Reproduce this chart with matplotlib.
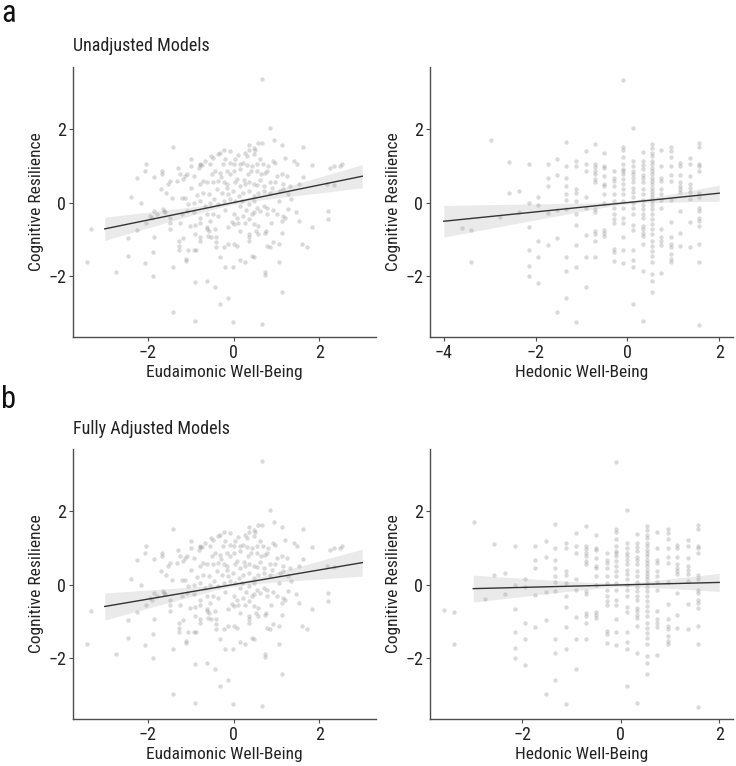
import numpy as np
import matplotlib
matplotlib.use("Agg")
import matplotlib.pyplot as plt

plt.rcParams['font.family'] = ['Roboto Condensed', 'DejaVu Sans Condensed', 'Liberation Sans Narrow',
                               'Liberation Sans', 'DejaVu Sans']

# eudaimonic well-being vs cognitive resilience
eud_pts = [
    (0.66, 3.37), (0.84, 2.05), (-1.40, 1.53), (0.95, 1.71), (1.63, 1.53),
    (0.35, 1.57), (0.47, 1.50), (0.58, 1.64), (0.66, 1.64), (0.35, 1.44), (0.50, 1.44),
    (1.13, 1.57), (-0.23, 1.45), (-0.08, 1.41),
    (-2.05, 1.05), (-2.07, 0.86), (-1.00, 1.20), (-0.79, 1.05), (-0.74, 1.02), (-0.81, 0.95),
    (-0.53, 1.27), (-0.47, 1.23), (-0.31, 1.36), (-0.35, 1.32),
    (-1.67, 0.86), (-1.67, 0.77), (-2.25, 0.68), (-1.86, 0.71),
    (2.33, 1.00), (2.52, 1.05), (2.25, 0.95), (2.48, 1.00), (1.82, 1.02), (1.40, 1.15), (1.47, 1.05),
    (-1.24, 0.77), (-1.12, 0.73), (-1.49, 0.59), (-1.53, 0.52), (-1.70, 0.36), (-1.57, 0.27),
    (-2.16, 0.00), (-2.04, -0.55), (-2.25, -0.75), (-3.33, -0.73), (-2.46, -0.97), (-1.86, -0.95),
    (-1.87, -1.36), (-2.46, -1.47), (-2.06, -1.66), (-1.87, -2.00), (-2.74, -1.89), (-3.42, -1.62),
    (-1.40, -1.77), (-1.40, -3.00), (-0.90, -3.25), (-0.90, -2.18), (-0.62, -2.14), (-0.43, -2.32),
    (-0.31, -2.77), (-0.12, -2.62), (-0.02, -3.27), (0.66, -3.32), (1.14, -2.45), (0.74, -1.90),
    (0.74, -1.97), (1.05, -1.64), (0.43, -1.45), (0.47, -1.50), (0.27, -1.64), (0.16, -1.56),
    (-0.02, -1.77), (-0.21, -1.77), (-0.31, -1.50), (-1.10, -1.60), (-1.10, -1.54), (-1.05, -1.30),
    (-0.93, -1.30), (-0.87, -1.30), (-1.28, -1.30), (-1.28, -1.18), (-1.28, -1.05), (-1.18, -0.97),
    (-0.90, -0.86), (-0.78, -0.95), (-0.78, -1.05), (-0.62, -0.73), (-0.58, -0.77), (-0.43, -0.73),
    (-0.60, -0.91), (-0.53, -0.95), (-0.40, -0.95), (-0.40, -1.09), (-0.40, -1.23), (-0.22, -1.23),
    (-0.14, -1.14), (0.00, -1.14), (0.08, -1.18), (-0.04, -0.53), (0.00, -0.59), (-0.12, -0.68),
    (0.16, -0.77), (0.27, -0.55), (0.35, -0.95), (0.35, -0.86), (0.35, -1.05), (0.53, -0.77),
    (0.56, -0.86), (0.47, -0.59), (0.58, -0.64), (0.74, -0.82), (0.75, -0.77), (0.78, -1.18),
    (0.84, -1.23), (0.93, -1.09), (1.05, -1.14), (1.14, -0.82), (1.20, -0.41), (1.14, -0.50),
    (1.53, -0.50), (1.82, -0.66), (1.60, -1.14), (1.71, -1.21), (2.21, -0.23), (2.21, -0.45),
    (1.63, 0.70), (1.52, 0.50), (2.17, 0.50), (2.33, 0.47),
    (0.27, 1.36), (0.31, 1.27), (0.04, 1.18), (0.47, 1.32),
    (-0.78, 1.03), (-0.54, 1.06), (-0.25, 1.05), (-0.08, 1.09), (0.00, 1.06), (0.16, 1.06),
    (0.23, 1.09), (0.31, 1.03), (0.43, 1.00), (0.54, 1.05), (0.93, 1.14), (0.97, 1.07), (1.21, 1.23),
    (-1.08, 0.79), (-0.93, 0.73), (-0.70, 0.59), (-0.50, 0.77), (-0.43, 0.85), (-0.31, 0.82),
    (-0.16, 0.85), (-0.08, 0.77), (0.00, 0.85), (0.16, 0.91), (0.33, 0.77), (0.40, 0.85),
    (0.54, 0.86), (0.64, 0.77), (0.74, 0.82), (0.78, 0.85), (1.01, 0.73), (1.13, 0.77), (1.24, 0.73),
    (-1.32, 0.59), (-1.18, 0.64), (-0.78, 0.52), (-0.62, 0.55), (-0.47, 0.55), (-0.35, 0.59),
    (-0.23, 0.55), (-0.16, 0.52), (0.04, 0.55), (0.16, 0.45), (0.27, 0.50), (0.37, 0.55),
    (0.47, 0.50), (0.54, 0.48), (0.70, 0.45), (0.84, 0.55), (0.97, 0.55), (1.16, 0.50), (1.32, 0.45),
    (-1.43, 0.12), (-1.20, 0.12), (-1.12, 0.12), (-0.70, 0.27), (-0.58, 0.23), (-0.39, 0.36),
    (-0.27, 0.27), (-0.12, 0.23), (-0.02, 0.32), (0.12, 0.18), (0.23, 0.27), (0.35, 0.32),
    (0.47, 0.18), (0.58, 0.27), (0.70, 0.32), (0.85, 0.27), (1.09, 0.32), (1.16, 0.36), (1.26, 0.23),
    (-0.93, 0.00), (-0.78, 0.05), (-0.66, -0.09), (-0.54, 0.00), (-0.35, -0.05), (-0.23, 0.05),
    (-0.08, 0.09), (0.04, 0.05), (0.16, -0.09), (0.35, -0.05), (0.47, 0.05), (0.54, -0.14),
    (0.70, -0.09), (0.78, -0.14), (0.93, -0.21),
    (-1.64, -0.18), (-1.59, -0.27), (-1.47, -0.41), (-1.20, -0.32), (-1.09, -0.23), (-0.93, -0.25),
    (-0.78, -0.41), (-0.62, -0.32), (-0.47, -0.32), (-0.35, -0.36), (0.00, -0.32), (0.08, -0.41),
    (0.23, -0.36), (0.35, -0.45), (0.47, -0.27), (0.62, -0.23), (0.78, -0.32), (1.02, -0.30),
    (1.16, -0.36), (1.26, -0.18),
    (-1.86, -0.23), (-1.78, -0.32), (-1.94, -0.36), (-1.63, -0.23), (-1.90, -0.41),
    (-1.49, -0.57), (-1.47, -0.73), (-1.01, -0.64), (-0.90, -0.61), (-0.79, -0.57), (-0.62, -0.68),
    # extra points in the dense middle of the cloud
    (-0.66, 1.14), (-0.20, 1.20), (0.10, 1.30), (0.62, 1.20), (0.80, 1.00), (-1.30, 0.95),
    (-0.98, 0.40), (-0.85, 0.20), (-0.45, 0.10), (-0.15, 0.40), (0.08, 0.65), (0.25, 0.62),
    (0.62, 0.62), (0.90, 0.40), (1.05, 0.05), (0.30, -0.20), (-0.20, -0.20), (-0.55, -0.50),
    (0.10, -0.55), (0.42, -0.30), (0.88, -0.55), (-1.05, -0.05), (-1.25, -0.55), (0.20, 0.05),
    (-0.30, 0.70), (0.68, 1.05), (1.35, 0.10), (1.45, -0.25), (-2.40, 0.15), (-1.00, 1.00),
]
eud_x = [p[0] for p in eud_pts]
eud_y = [p[1] for p in eud_pts]

# hedonic well-being takes discrete levels; resilience values per level
hed_levels = [-3.6, -3.4, -2.98, -2.77, -2.57, -2.36, -2.15, -1.95, -1.74, -1.53, -1.33, -1.12,
              -0.91, -0.71, -0.50, -0.29, -0.09, 0.12, 0.33, 0.53, 0.74, 0.95, 1.15, 1.36, 1.57]
hed_res = [
    [-0.71],
    [-0.74, -1.62],
    [1.72],
    [-0.39],
    [1.10, 0.25],
    [0.32, -0.25],
    [1.05, 0.00, -0.66, -1.30, -1.75, -2.00],
    [0.15, -0.07, -1.05, -1.48, -2.19],
    [1.06, 0.68, 0.45, -0.28, -1.15],
    [1.20, 0.75, -0.21, -0.98, -3.00],
    [1.65, 1.01, 0.68, 0.44, 0.23, 0.07, -0.17, -1.50, -1.88, -2.62],
    [1.15, 1.01, 0.36, 0.25, 0.05, -0.30, -0.61, -1.15, -1.77, -3.27],
    [1.41, 1.05, 0.85, 0.15, -0.14, -0.89, -1.50, -2.32],
    [1.59, 1.05, 0.97, 0.85, 0.77, 0.64, 0.55, -0.18, -0.25, -0.77, -0.86, -1.05, -1.48],
    [1.36, 1.01, 0.95, 0.73, 0.50, 0.44, 0.23, 0.00, -0.75, -0.82, -0.91],
    [0.85, 0.66, 0.59, 0.44, 0.23, 0.05, -0.14, -0.32, -0.45, -0.55, -1.27, -1.34, -1.60],
    [3.36, 1.53, 1.45, 1.26, 1.05, 0.91, 0.85, 0.79, 0.64, 0.50, 0.36, 0.23, 0.05, -0.15, -0.41,
     -0.57, -0.94, -1.30, -1.66],
    [2.05, 1.15, 1.00, 0.86, 0.77, 0.68, 0.55, 0.41, 0.29, 0.14, 0.00, -0.14, -0.32, -0.61, -0.75,
     -1.30, -1.57, -1.77, -2.77],
    [1.39, 1.14, 1.03, 0.91, 0.75, 0.68, 0.55, 0.36, 0.23, 0.06, -0.06, -0.18, -0.32, -0.41, -0.64,
     -0.73, -0.82, -0.91, -1.14, -1.86, -3.25],
    [1.59, 1.50, 1.36, 1.27, 1.14, 1.05, 0.95, 0.86, 0.77, 0.68, 0.59, 0.50, 0.41, 0.32, 0.23, 0.14,
     0.05, -0.06, -0.18, -0.32, -0.45, -0.59, -0.73, -0.86, -1.05, -1.18, -1.32, -1.45, -1.64,
     -1.95, -2.14, -2.45],
    [1.45, 1.00, 0.68, 0.59, 0.36, 0.23, 0.06, -0.14, -0.73, -0.94, -1.05, -1.15, -1.94],
    [1.53, 1.41, 1.26, 1.00, 0.75, 0.59, 0.06, -0.52, -0.94, -1.14, -1.23, -1.41, -1.55, -1.64],
    [1.07, 1.00, 0.75, 0.55, 0.45, 0.36, 0.30, -0.23, -0.82, -1.18],
    [1.23, 1.05, 0.73, 0.50, 0.41, 0.30, 0.09, -0.52, -1.21],
    [1.64, 1.53, 1.05, 1.00, 0.86, 0.25, 0.15, -0.14, -0.23, -0.41, -0.50, -0.64, -1.14, -1.62, -3.34],
]
hed_x = [lv for lv, col in zip(hed_levels, hed_res) for _ in col]
hed_y = [v for col in hed_res for v in col]

# fitted lines: intercept, slope, se at mean, se of slope, x range of line
fit_eud_unadj = dict(b0=0.0, b1=0.24, se0=0.05, se1=0.105, xr=(-3, 3))
fit_hed_unadj = dict(b0=0.0, b1=0.128, se0=0.04, se1=0.108, xr=(-4, 2))
fit_eud_adj = dict(b0=0.0, b1=0.20, se0=0.05, se1=0.122, xr=(-3, 3))
fit_hed_adj = dict(b0=-0.01, b1=0.034, se0=0.05, se1=0.122, xr=(-3, 2))

AX_COL = '#4d4d4d'
TXT_COL = '#222222'


def panel(ax, x, y, fit, xlim, xticks, xlabel):
    ax.scatter(x, y, s=10, color='#8c8c8c', alpha=0.32, linewidths=0, zorder=1)
    xs = np.linspace(fit['xr'][0], fit['xr'][1], 100)
    yhat = fit['b0'] + fit['b1'] * xs
    half = np.sqrt(fit['se0'] ** 2 + (fit['se1'] * xs) ** 2)
    ax.fill_between(xs, yhat - half, yhat + half, color='#9a9a9a', alpha=0.2, linewidth=0, zorder=2)
    ax.plot(xs, yhat, color='#333333', lw=1.0, zorder=3)
    ax.set_xlim(*xlim)
    ax.set_ylim(-3.68, 3.71)
    ax.set_xticks(xticks)
    ax.set_xticklabels([f'{t}'.replace('-', '\u2212') for t in xticks])
    ax.set_yticks([-2, 0, 2])
    ax.set_yticklabels(['\u22122', '0', '2'])
    for s in ['top', 'right']:
        ax.spines[s].set_visible(False)
    for s in ['left', 'bottom']:
        ax.spines[s].set_color(AX_COL)
        ax.spines[s].set_linewidth(1.0)
    ax.tick_params(colors=AX_COL, labelcolor=TXT_COL, labelsize=13, length=3, width=0.8, pad=2)
    ax.set_xlabel(xlabel, fontsize=12.5, color=TXT_COL, labelpad=2)
    ax.set_ylabel('Cognitive Resilience', fontsize=12.5, color=TXT_COL, labelpad=3)


fig = plt.figure(figsize=(7.36, 7.66), dpi=100)
W, H = 736, 766


def axes_px(l, t, r, b):
    return fig.add_axes([l / W, 1 - b / H, (r - l) / W, (b - t) / H])


ax1 = axes_px(73, 67, 376, 337)
ax2 = axes_px(430, 67, 733, 337)
ax3 = axes_px(73, 449, 376, 719)
ax4 = axes_px(430, 449, 733, 719)

panel(ax1, eud_x, eud_y, fit_eud_unadj, (-3.74, 3.32), [-2, 0, 2], 'Eudaimonic Well-Being')
panel(ax2, hed_x, hed_y, fit_hed_unadj, (-4.3, 2.3), [-4, -2, 0, 2], 'Hedonic Well-Being')
panel(ax3, eud_x, eud_y, fit_eud_adj, (-3.74, 3.32), [-2, 0, 2], 'Eudaimonic Well-Being')
panel(ax4, hed_x, hed_y, fit_hed_adj, (-3.88, 2.28), [-2, 0, 2], 'Hedonic Well-Being')

fig.text(1 / W, 1 - 22 / H, 'a', fontsize=22, color='#111111', va='baseline')
fig.text(1 / W, 1 - 408 / H, 'b', fontsize=22, color='#111111', va='baseline')
fig.text(73 / W, 1 - 51 / H, 'Unadjusted Models', fontsize=13, color=TXT_COL, va='baseline')
fig.text(73 / W, 1 - 434 / H, 'Fully Adjusted Models', fontsize=13, color=TXT_COL, va='baseline')

fig.savefig('out.png', dpi=100)
